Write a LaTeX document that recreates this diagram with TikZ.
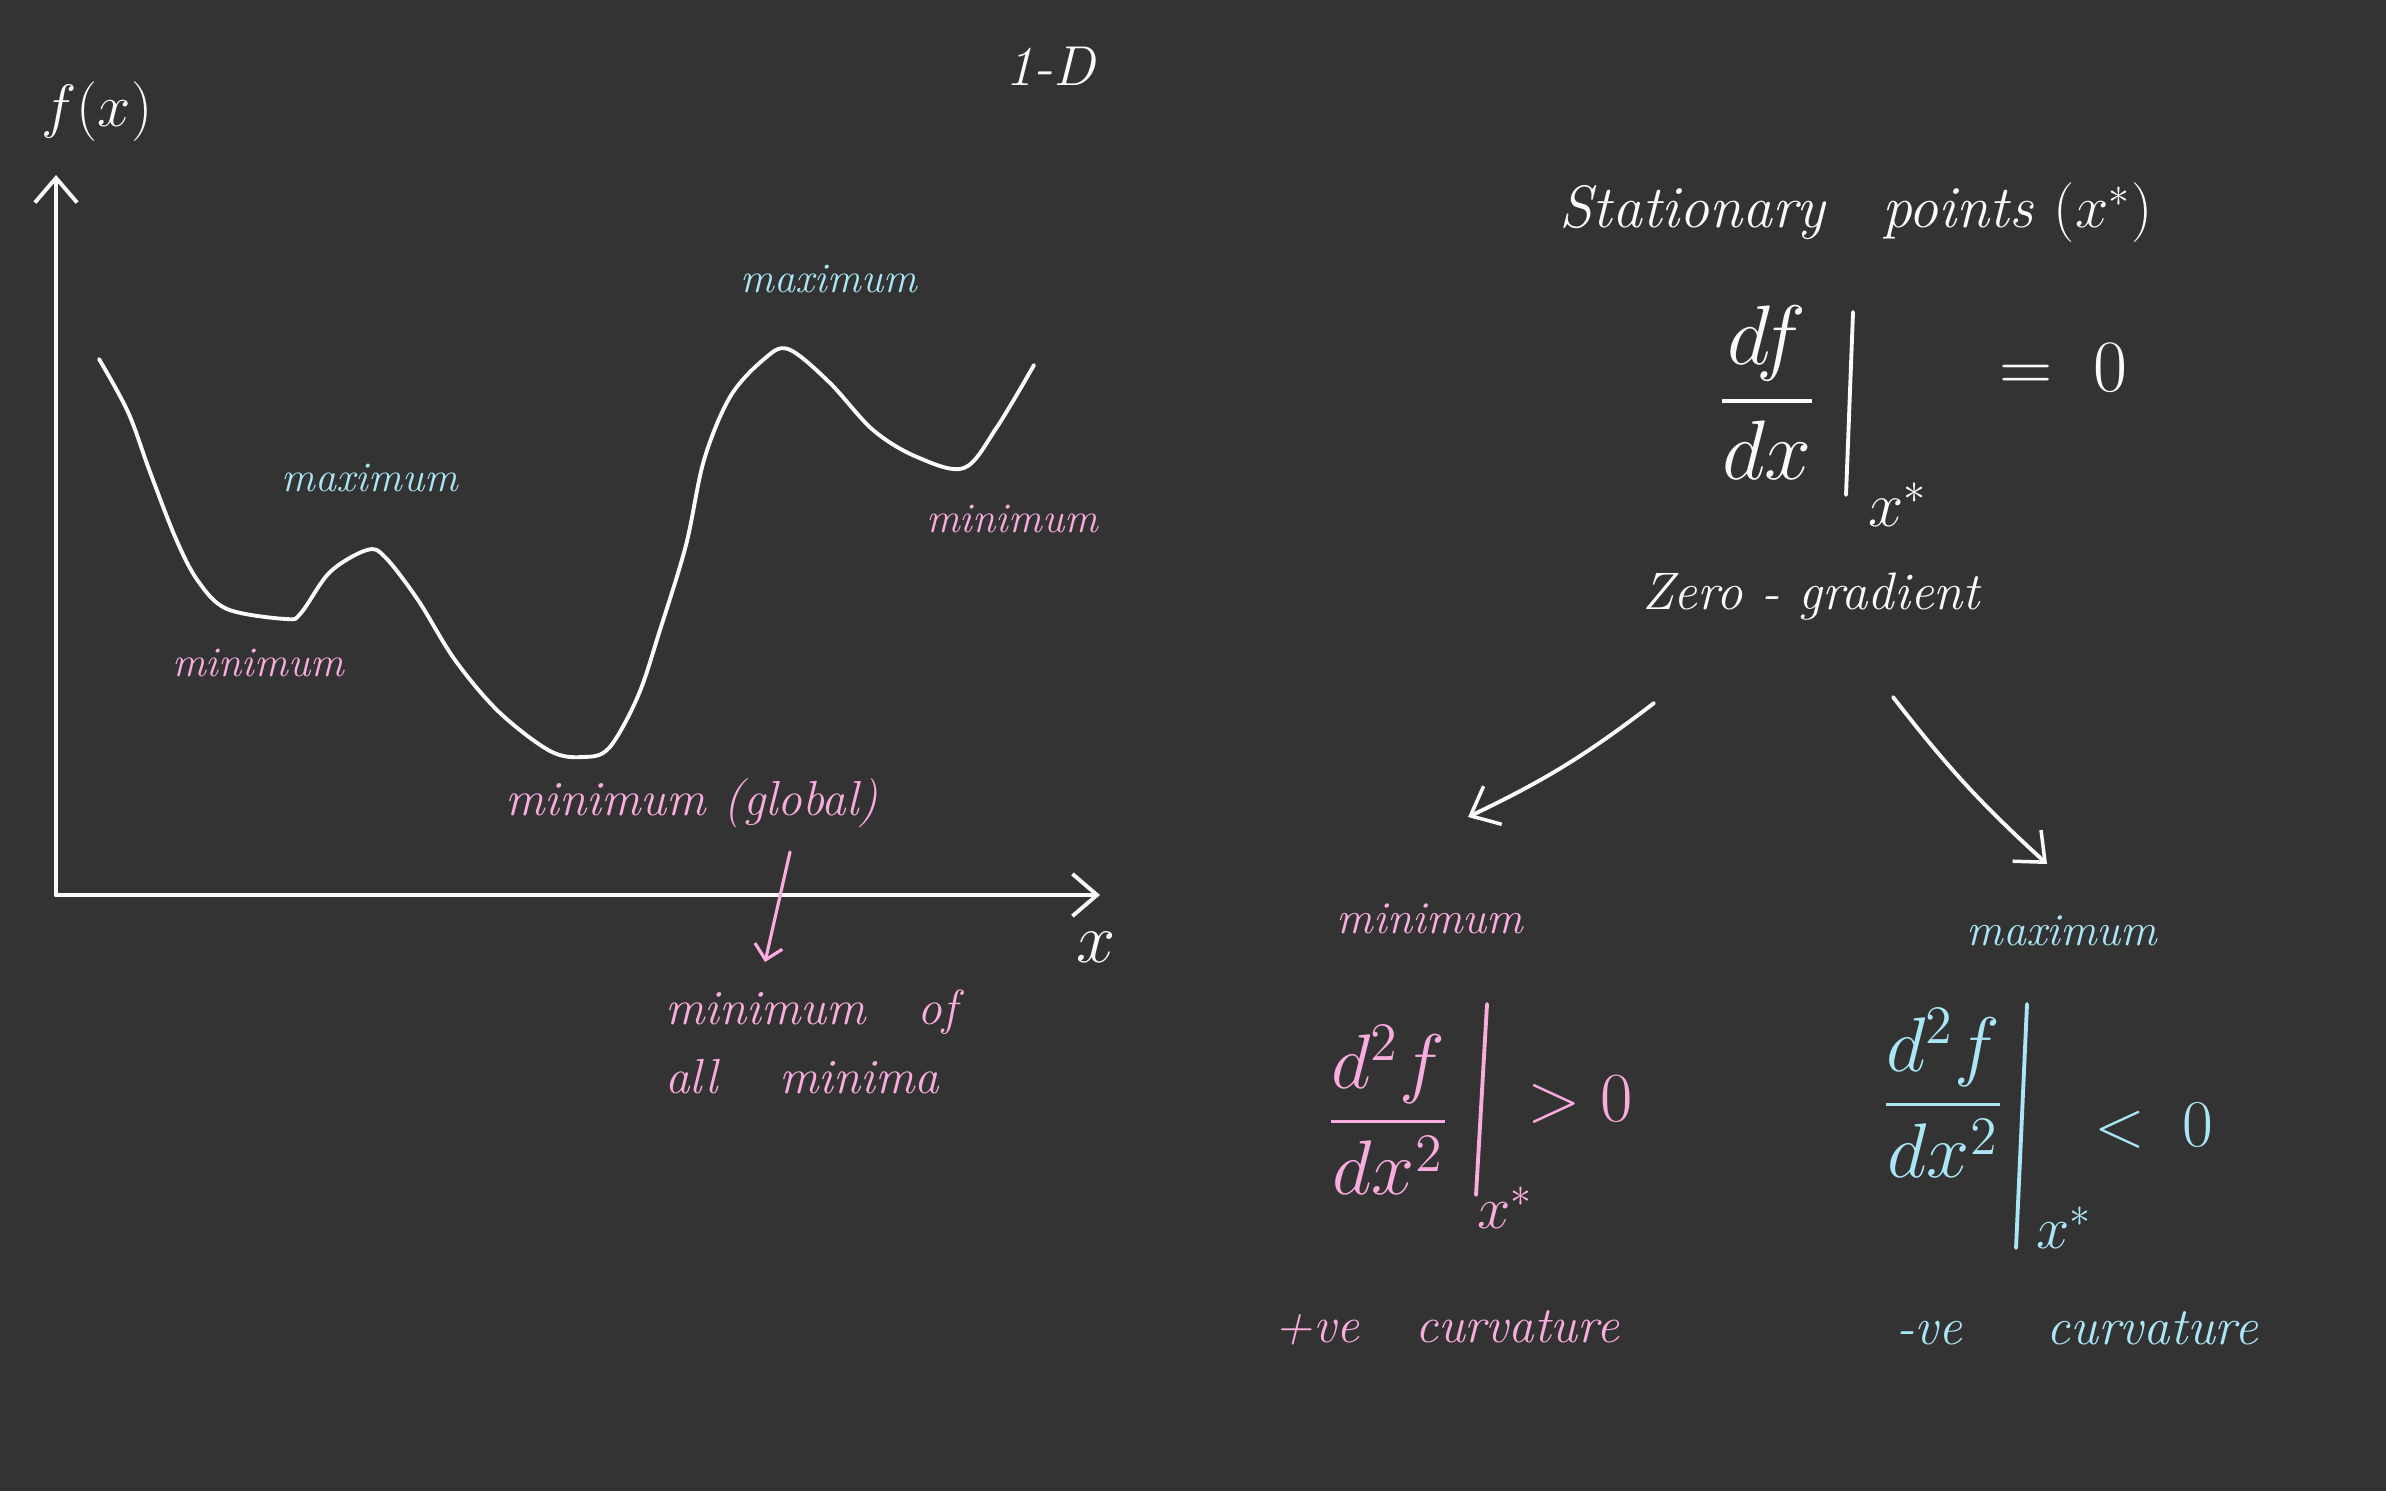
\documentclass[tikz,border=0pt]{standalone}
\usepackage{fix-cm}
\usepackage{amsmath}
\usepackage{tikz}
\usetikzlibrary{arrows.meta, positioning, calc}
\definecolor{boardgray}{RGB}{51,51,51}
\definecolor{chalkwhite}{RGB}{250,250,250}
\definecolor{chalkpink}{RGB}{249,172,222}
\definecolor{chalkcyan}{RGB}{170,230,246}
\tikzset{
  chalk/.style={line width=1.1pt, line cap=round, line join=round},
  whitechalk/.style={chalk, draw=chalkwhite},
  pinkchalk/.style={chalk, draw=chalkpink},
  cyanchalk/.style={chalk, draw=chalkcyan},
  basetext/.style={inner sep=1pt, align=center, font=\itshape\fontsize{12}{14}\selectfont},
  whitetext/.style={basetext, text=chalkwhite},
  pinktext/.style={basetext, text=chalkpink},
  cyantext/.style={basetext, text=chalkcyan},
  sizefont/.style={font=\itshape\fontsize{#1}{#1}\selectfont},
  axisarrow/.style={-{Straight Barb[length=7pt, width=12pt, line width=1.1pt]}},
  arrow/.style={-{Straight Barb[length=7pt, width=12pt, line width=1pt]}},
  pinkarrow/.style={pinkchalk, line width=0.9pt, -{Straight Barb[length=4pt, width=8pt, line width=0.9pt]}}
}

\begin{document}
\begin{tikzpicture}[x=0.01cm, y=-0.01cm]
  % board
  \fill[boardgray] (0,0) rectangle (2386,1491);
  \useasboundingbox (0,0) rectangle (2386,1491);

  % axes
  \coordinate (origin) at (56,895);
  \coordinate (ytip) at (56,175);
  \coordinate (xtip) at (1100,895);
  \draw[whitechalk, axisarrow] (origin) -- (ytip);
  \draw[whitechalk, axisarrow] (origin) -- (xtip);
  \node[whitetext, sizefont=17] (fx) at (97,112) {$f(x)$};
  \node[whitetext, sizefont=20] (xlab) at (1096,947) {$x$};
  \node[whitetext, sizefont=16] (oned) at (1050,66) {1-D};

  % the landscape
  \draw[whitechalk] plot[smooth, tension=0.55] coordinates {
    (99,359) (128,412) (150,472) (176,539) (198,581) (227,609) (286,619)
    (301,613) (330,572) (367,550) (385,557) (418,600) (455,660) (499,712)
    (550,751) (583,757) (609,748) (638,696) (660,630) (686,545) (704,460)
    (730,397) (763,360) (788,349) (829,382) (873,430) (917,457) (964,468)
    (997,427) (1034,365)};

  % labels on the curve
  \node[cyantext] (lmax) at (370,478) {maximum};
  \node[pinktext] (lmin) at (258,663) {minimum};
  \node[cyantext] (rmax) at (829,279) {maximum};
  \node[pinktext] (rmin) at (1012,519) {minimum};
  \node[pinktext, sizefont=14] (glob) at (692,803) {minimum (global)};
  \node[pinktext, align=left, font=\itshape\fontsize{14}{19.6}\selectfont]
        (allmin) at (811,1042) {minimum \hspace{0.7em}of\\all\hspace{0.9em} minima};
  \coordinate (gstart) at (790,852);
  \coordinate (gend) at (765,962);
  \draw[pinkarrow] (gstart) -- (gend);

  % stationary points
  \node[whitetext, sizefont=17] (stat) at (1856,213) {Stationary \hspace{0.6em}points $(x^{*})$};
  \node[whitetext, sizefont=24] (dfdx) at (1767,393) {$\dfrac{df}{dx}$};
  \draw[whitechalk] (1853,312) -- (1846,495);
  \node[whitetext, sizefont=18] (xs1) at (1898,505) {$x^{*}$};
  \node[whitetext, sizefont=21] (eqz) at (2063,368) {$=\;0$};
  \node[whitetext, sizefont=15] (zero) at (1811,597) {Zero - gradient};

  % branches
  \coordinate (lstart) at (1654,703);
  \coordinate (lend) at (1468,817);
  \coordinate (rstart) at (1893,697);
  \coordinate (rend) at (2047,864);
  \draw[whitechalk, arrow] (lstart) to[bend left=6] (lend);
  \draw[whitechalk, arrow] (rstart) to[bend right=5] (rend);

  % minimum branch
  \node[pinktext, sizefont=13] (bmin) at (1430,919) {minimum};
  \node[pinktext, sizefont=22] (d2min) at (1388,1110) {$\dfrac{d^{2}f}{dx^{2}}$};
  \draw[pinkchalk] (1487,1004) -- (1476,1195);
  \node[pinktext, sizefont=17] (xs2) at (1505,1208) {$x^{*}$};
  \node[pinktext, sizefont=20] (gtz) at (1580,1100) {$>0$};
  \node[pinktext, sizefont=14.5] (pcurv) at (1447,1328) {+ve\hspace{1.1em}curvature};

  % maximum branch
  \node[cyantext, sizefont=13] (bmax) at (2062,931) {maximum};
  \node[cyantext, sizefont=22] (d2max) at (1943,1093) {$\dfrac{d^{2}f}{dx^{2}}$};
  \draw[cyanchalk] (2027,1004) -- (2016,1248);
  \node[cyantext, sizefont=17] (xs3) at (2064,1228) {$x^{*}$};
  \node[cyantext, sizefont=19] (ltz) at (2154,1126) {$<\;0$};
  \node[cyantext, sizefont=15] (ncurv) at (2077,1328) {-ve\hspace{1.6em}curvature};
\end{tikzpicture}
\end{document}
